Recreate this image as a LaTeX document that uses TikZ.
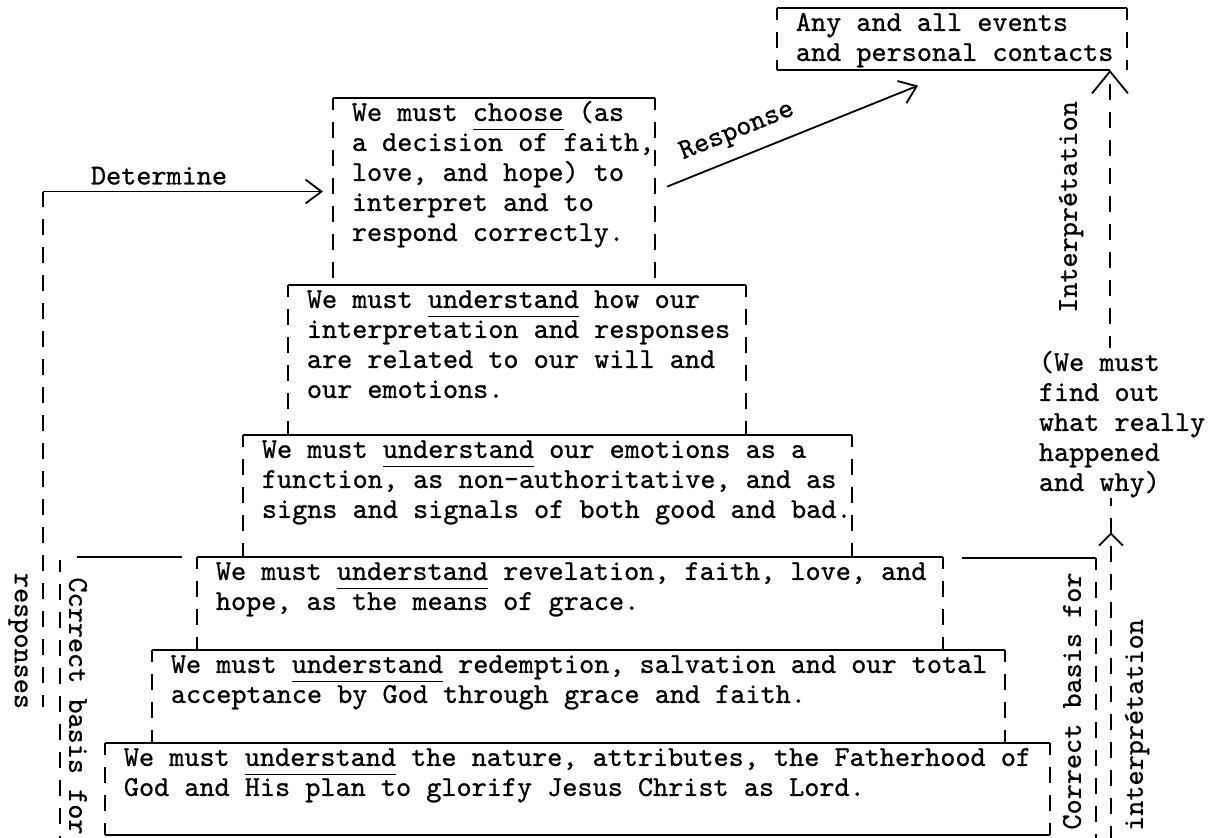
\documentclass[tikz,border=0pt]{standalone}
\usepackage{fontspec}
\usepackage{tikz}
\usetikzlibrary{positioning,arrows.meta,decorations.markings}
\newfontfamily\typefont{lmmono10-regular.otf}[FakeBold=0.8]
\newcommand{\typed}{\fontsize{28.8}{30}\selectfont\typefont}
\newcommand{\marked}[1]{\underline{#1\vphantom{g}}}
\tikzset{every picture/.style={line width=1.8pt}}

\begin{document}
\begin{tikzpicture}[x=1pt, y=-1pt,
    tier/.style={anchor=north west, inner sep=0pt, outer sep=0pt},
    says/.style={anchor=north west, inner sep=0pt, align=left, font=\typed, xshift=18pt, yshift=-1pt},
    bars/.style={dash pattern=on 16pt off 12pt, dash phase=4pt},
    tip/.style={-{Straight Barb[length=16pt,width=24pt]}},
    side/.style={font=\typed, inner sep=0pt}]
    \useasboundingbox (0,0) rectangle (1211,838);

    % Events and contacts
    \node[tier, minimum width=350pt, minimum height=62pt, label={[says]north west:{\strut Any and all events\\and personal contacts}}] (ev) at (777,8) {};

    % Choose
    \node[tier, minimum width=322pt, minimum height=187pt, label={[says]north west:{\strut We must \marked{choose} (as\\a decision of faith,\\love, and hope) to\\interpret and to\\respond correctly.}}] (b1) at (333,98) {};

    % Will and emotions
    \node[tier, minimum width=458pt, minimum height=150pt, label={[says]north west:{\strut We must \marked{understand} how our\\interpretation and responses\\are related to our will and\\our emotions.}}] (b2) at (288,285) {};

    % Emotions
    \node[tier, minimum width=609pt, minimum height=122pt, label={[says]north west:{\strut We must \marked{understand} our emotions as a\\function, as non-authoritative, and as\\signs and signals of both good and bad.}}] (b3) at (243,435) {};

    % Means of grace
    \node[tier, minimum width=746pt, minimum height=93pt, label={[says]north west:{\strut We must \marked{understand} revelation, faith, love, and\\hope, as the means of grace.}}] (b4) at (197,557) {};

    % Redemption
    \node[tier, minimum width=853pt, minimum height=93pt, label={[says]north west:{\strut We must \marked{understand} redemption, salvation and our total\\acceptance by God through grace and faith.}}] (b5) at (152,650) {};

    % Nature of God
    \node[tier, minimum width=945pt, minimum height=92pt, label={[says]north west:{\strut We must \marked{understand} the nature, attributes, the Fatherhood of\\God and His plan to glorify Jesus Christ as Lord.}}] (b6) at (105,743) {};

    % Frames
    \coordinate (ia) at (1110,348);
    \draw (ev.north west) -- (ev.north east) (ev.south west) -- (ia |- ev.south);
    \draw[bars] (ev.north west) -- (ev.south west) (ev.north east) -- (ev.south east);
    \draw (b1.north west) -- (b1.north east);
    \draw[bars] (b1.north west) -- (b1.south west) (b1.north east) -- (b1.south east);
    \draw (b2.north west) -- (b2.north east);
    \draw[bars] (b2.north west) -- (b2.south west) (b2.north east) -- (b2.south east);
    \draw (b3.north west) -- (b3.north east);
    \draw[bars] (b3.north west) -- (b3.south west) (b3.north east) -- (b3.south east);
    \draw (b4.north west) -- (b4.north east);
    \draw[bars] (b4.north west) -- (b4.south west) (b4.north east) -- (b4.south east);
    \draw (b5.north west) -- (b5.north east);
    \draw[bars] (b5.north west) -- (b5.south west) (b5.north east) -- (b5.south east);
    \draw (b6.north west) -- (b6.north east) (b6.south west) -- (b6.south east);
    \draw[bars] (b6.north west) -- (b6.south west) (b6.north east) -- (b6.south east);

    % Side labels
    \node[side, rotate=-90] (rs) at (18,641) {responses};
    \node[side, rotate=-90] (cl) at (78,706) {Ccrrect basis for};
    \node[side, rotate=90] (cr) at (1072,701) {Correct basis for};
    \node[side, rotate=90] (ir) at (1137,725) {interprétation};
    \node[side, rotate=90] (iu) at (1071,207) {Interprétation};
    \node[side, align=left, anchor=north west] (wm) at (1038,350) {(We must\\find out\\what really\\happened\\and why)};

    % Brackets
    \draw (77,557) -- (182,557);
    \draw[bars] (60,560) -- (60,838);
    \draw (962,558) -- (1096,558);
    \draw[bars] (1096,558) -- (1096,838);

    % Determine
    \coordinate (dt) at (43,707);
    \draw[bars] (dt) -- (dt |- b1.west);
    \draw[tip, shorten >=10pt] (dt |- b1.west) -- node[side, above=6pt, pos=0.4] (dtm) {Determine} (b1.west);

    % Response
    \draw[tip, shorten <=13pt, shorten >=15pt] (b1.east) -- node[side, sloped, above=12pt, pos=0.33] (rp) {Response} ([xshift=-20pt, yshift=-10pt]ev.south);

    % Interpretation
    \draw[bars, -{Straight Barb[length=22pt,width=36pt]}] (ia) -- (ia |- ev.south);
    \coordinate (ib) at (1111,838);
    \draw[bars, postaction={decorate}, decoration={markings, mark=at position 0.9 with {\arrow{Straight Barb[length=12pt,width=24pt]}}}] (ib) -- (ib |- wm.south);
\end{tikzpicture}
\end{document}
